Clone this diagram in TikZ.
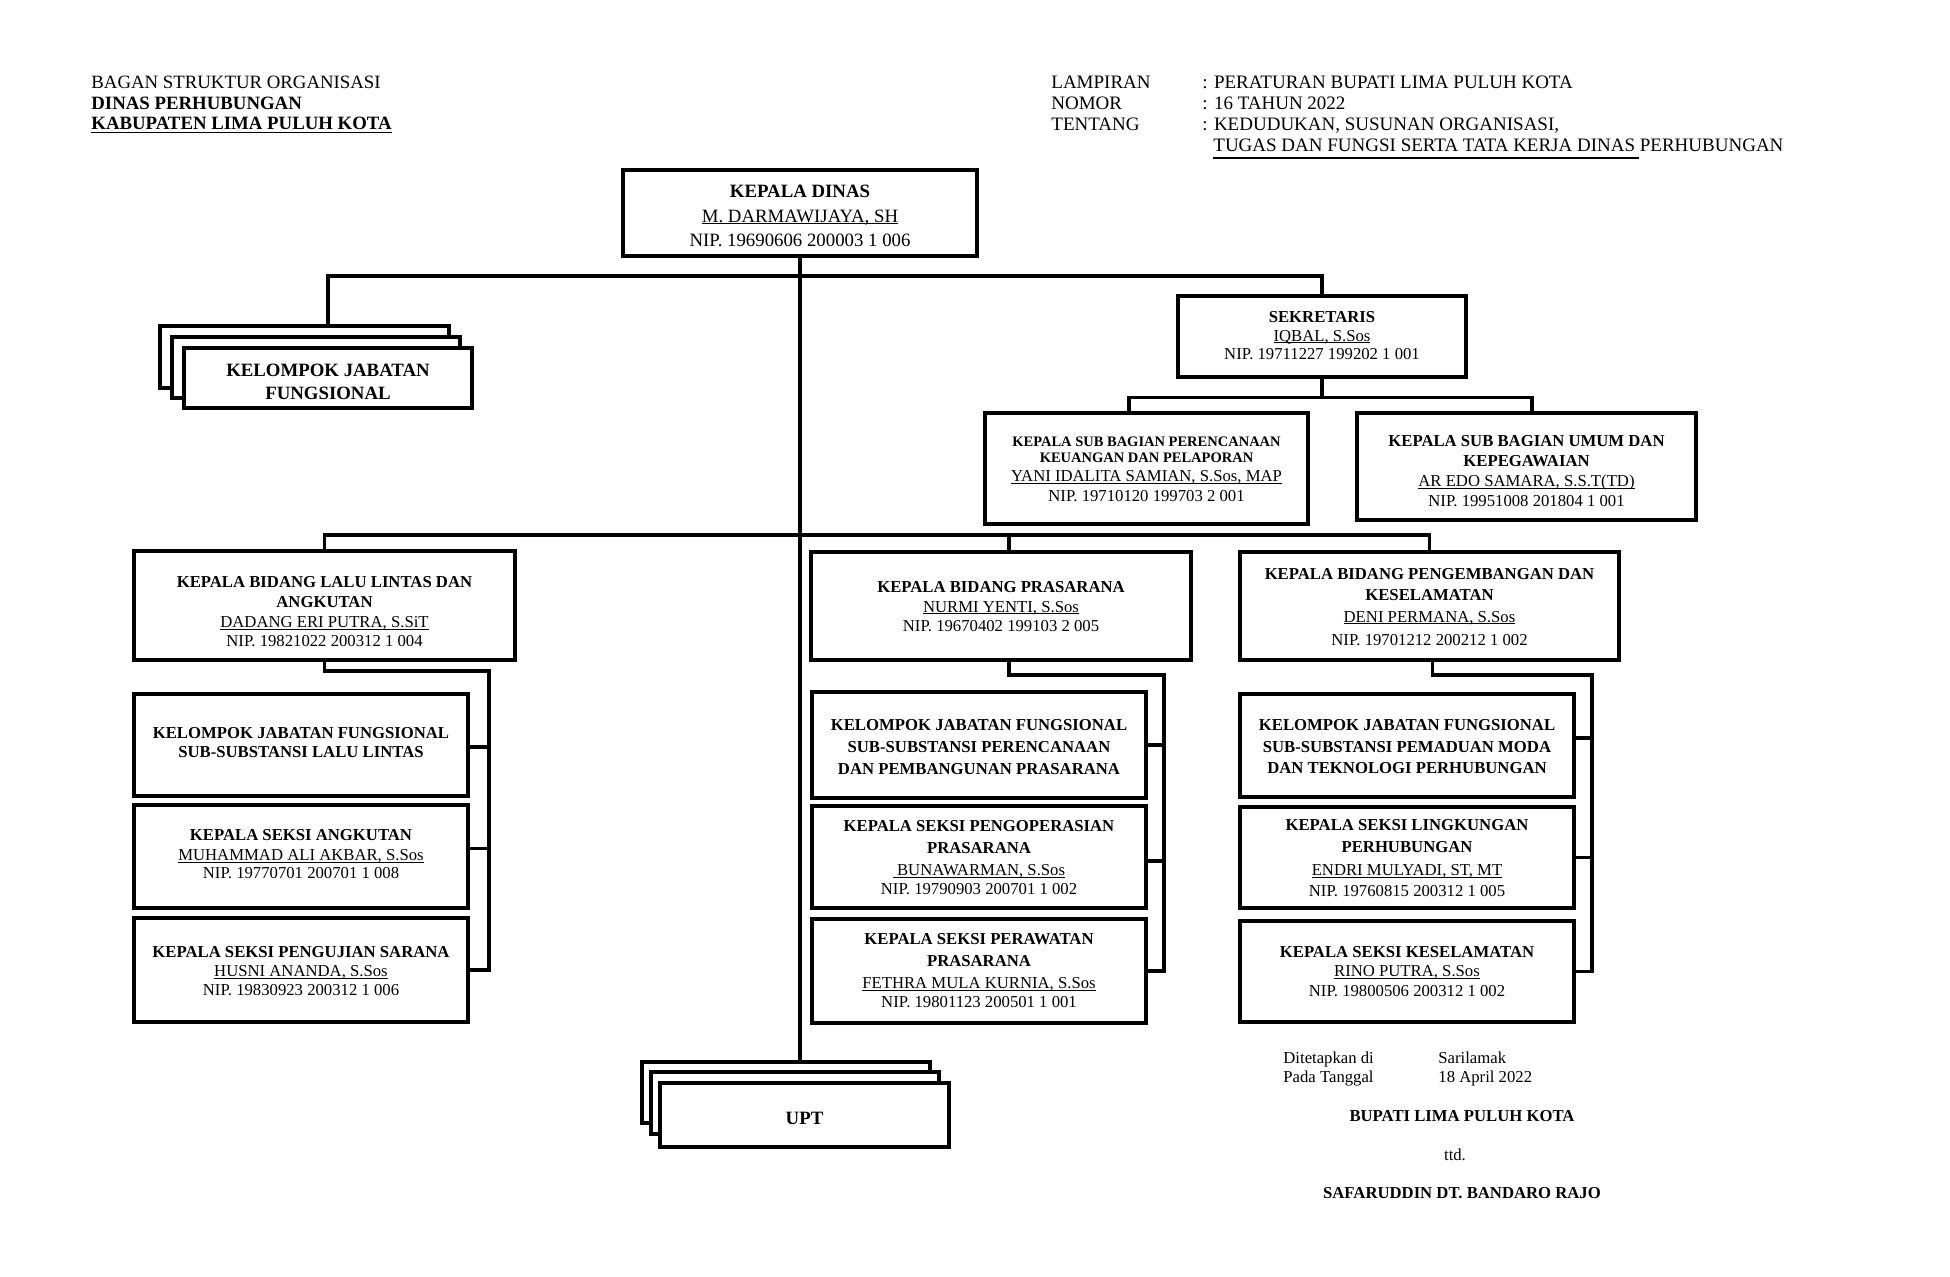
\documentclass[tikz,border=0pt]{standalone}
\usepackage{fontspec}
\setmainfont{Liberation Serif}
\usetikzlibrary{fit,calc}
\tikzset{
  box/.style={draw, line width=1.6pt, inner sep=0pt, fill=white},
  conn/.style={line width=1.6pt},
  hdr/.style={anchor=base west, inner sep=0pt, font=\fontsize{9.4}{10}\selectfont},
  hdrr/.style={anchor=base west, inner sep=0pt, font=\fontsize{9.5}{10}\selectfont},
  sig/.style={anchor=base west, inner sep=0pt, font=\fontsize{8.35}{10}\selectfont},
  tx/.style={anchor=base, inner sep=0pt, font=\fontsize{8.35}{10}\selectfont},
  txb/.style={anchor=base, inner sep=0pt, font=\fontsize{8.35}{10}\selectfont\bfseries},
  tt/.style={anchor=base, inner sep=0pt, font=\fontsize{9.4}{11}\selectfont},
  ttb/.style={anchor=base, inner sep=0pt, font=\fontsize{9.4}{11}\selectfont\bfseries},
  tsb/.style={anchor=base, inner sep=0pt, font=\fontsize{7.25}{8}\selectfont\bfseries},
}
\newcommand{\ulx}[3]{\setbox0\hbox{#3}\rlap{\rule[-#1]{\wd0}{#2}}\box0}
\newcommand{\ulname}[1]{\ulx{1.2pt}{0.5pt}{#1}}
\begin{document}
\begin{tikzpicture}[x=0.5pt,y=-0.5pt]
\fill[white] (0,0) rectangle (1950,1276);
\useasboundingbox (0,0) rectangle (1950,1276);

% ---------- header left
\node[hdr] (h1) at (91,88) {BAGAN STRUKTUR ORGANISASI};
\node[hdr] (h2) at (91,109) {\textbf{DINAS PERHUBUNGAN}};
\node[hdr] (h3) at (91,129) {\ulx{2.2pt}{0.9pt}{\textbf{KABUPATEN LIMA PULUH KOTA}}};
% ---------- header right
\node[hdrr] (r1a) at (1051,88) {LAMPIRAN};
\node[hdrr] (r1b) at (1202,88) {: PERATURAN BUPATI LIMA PULUH KOTA};
\node[hdrr] (r2a) at (1051,109) {NOMOR};
\node[hdrr] (r2b) at (1202,109) {: 16 TAHUN 2022};
\node[hdrr] (r3a) at (1051,130) {TENTANG};
\node[hdrr] (r3b) at (1202,130) {: KEDUDUKAN, SUSUNAN ORGANISASI,};
\node[hdrr] (r4b) at (1213,151) {TUGAS DAN FUNGSI SERTA TATA KERJA DINAS PERHUBUNGAN};
\coordinate (ula) at (1213,158);
\coordinate (ulb) at (1639,158);
\draw[line width=1pt] (ula) -- (ulb);

% ---------- boxes
\node[box, fit={(623,170) (977,256)}] (kd) {};
\node[box, fit={(160,326) (449,388)}] (kjf1) {};
\node[box, fit={(172,337) (460,398)}] (kjf2) {};
\node[box, fit={(184,348) (472,408)}] (kjf3) {};
\node[box, fit={(1178,296) (1466,377)}] (sek) {};
\node[box, fit={(985,413) (1308,524)}] (sp) {};
\node[box, fit={(1357,413) (1696,520)}] (su) {};
\node[box, fit={(134,551) (515,660)}] (bll) {};
\node[box, fit={(811,552) (1191,660)}] (bpr) {};
\node[box, fit={(1240,552) (1619,660)}] (bpe) {};
\node[box, fit={(134,694) (468,796)}] (ll1) {};
\node[box, fit={(134,805) (468,908)}] (ll2) {};
\node[box, fit={(134,918) (468,1022)}] (ll3) {};
\node[box, fit={(812,692) (1146,798)}] (pr1) {};
\node[box, fit={(812,806) (1146,908)}] (pr2) {};
\node[box, fit={(812,919) (1146,1023)}] (pr3) {};
\node[box, fit={(1240,694) (1574,797)}] (pe1) {};
\node[box, fit={(1240,807) (1574,908)}] (pe2) {};
\node[box, fit={(1240,921) (1574,1022)}] (pe3) {};
\node[box, fit={(642,1062) (930,1123)}] (upt1) {};
\node[box, fit={(651,1072) (939,1134)}] (upt2) {};
\node[box, fit={(660,1083) (949,1147)}] (upt3) {};

% ---------- box texts
\node[ttb] (kd-a) at (800,197) {KEPALA DINAS};
\node[tt]  (kd-b) at (800,222) {\ulname{M. DARMAWIJAYA, SH}};
\node[tt]  (kd-c) at (800,246) {NIP. 19690606 200003 1 006};

\node[ttb] (kjf-a) at (328,376) {KELOMPOK JABATAN};
\node[ttb] (kjf-b) at (328,399) {FUNGSIONAL};

\node[txb] (sek-a) at (1322,322) {SEKRETARIS};
\node[tx]  (sek-b) at (1322,341) {\ulname{IQBAL, S.Sos}};
\node[tx]  (sek-c) at (1322,359) {NIP. 19711227 199202 1 001};

\node[tsb] (sp-a) at (1146.5,446) {KEPALA SUB BAGIAN PERENCANAAN};
\node[tsb] (sp-b) at (1146.5,462) {KEUANGAN DAN PELAPORAN};
\node[tx]  (sp-c) at (1146.5,481.5) {\ulname{YANI IDALITA SAMIAN, S.Sos, MAP}};
\node[tx]  (sp-d) at (1146.5,501.5) {NIP. 19710120 199703 2 001};

\node[txb] (su-a) at (1526.5,446.5) {KEPALA SUB BAGIAN UMUM DAN};
\node[txb] (su-b) at (1526.5,466.5) {KEPEGAWAIAN};
\node[tx]  (su-c) at (1526.5,486.5) {\ulname{AR EDO SAMARA, S.S.T(TD)}};
\node[tx]  (su-d) at (1526.5,506.5) {NIP. 19951008 201804 1 001};

\node[txb] (bll-a) at (324.5,587.5) {KEPALA BIDANG LALU LINTAS DAN};
\node[txb] (bll-b) at (324.5,607.5) {ANGKUTAN};
\node[tx]  (bll-c) at (324.5,627.5) {\ulname{DADANG ERI PUTRA, S.SiT}};
\node[tx]  (bll-d) at (324.5,646.5) {NIP. 19821022 200312 1 004};

\node[txb] (bpr-a) at (1001,592) {KEPALA BIDANG PRASARANA};
\node[tx]  (bpr-b) at (1001,612) {\ulname{NURMI YENTI, S.Sos}};
\node[tx]  (bpr-c) at (1001,631) {NIP. 19670402 199103 2 005};

\node[txb] (bpe-a) at (1429.5,579.5) {KEPALA BIDANG PENGEMBANGAN DAN};
\node[txb] (bpe-b) at (1429.5,600.5) {KESELAMATAN};
\node[tx]  (bpe-c) at (1429.5,622) {\ulname{DENI PERMANA, S.Sos}};
\node[tx]  (bpe-d) at (1429.5,645.5) {NIP. 19701212 200212 1 002};

\node[txb] (ll1-a) at (301,738.5) {KELOMPOK JABATAN FUNGSIONAL};
\node[txb] (ll1-b) at (301,757.5) {SUB-SUBSTANSI LALU LINTAS};
\node[txb] (ll2-a) at (301,840.5) {KEPALA SEKSI ANGKUTAN};
\node[tx]  (ll2-b) at (301,860.5) {\ulname{MUHAMMAD ALI AKBAR, S.Sos}};
\node[tx]  (ll2-c) at (301,878.5) {NIP. 19770701 200701 1 008};
\node[txb] (ll3-a) at (301,957.5) {KEPALA SEKSI PENGUJIAN SARANA};
\node[tx]  (ll3-b) at (301,976.5) {\ulname{HUSNI ANANDA, S.Sos}};
\node[tx]  (ll3-c) at (301,995.5) {NIP. 19830923 200312 1 006};

\node[txb] (pr1-a) at (979,730.5) {KELOMPOK JABATAN FUNGSIONAL};
\node[txb] (pr1-b) at (979,752.5) {SUB-SUBSTANSI PERENCANAAN};
\node[txb] (pr1-c) at (979,774.5) {DAN PEMBANGUNAN PRASARANA};
\node[txb] (pr2-a) at (979,831.5) {KEPALA SEKSI PENGOPERASIAN};
\node[txb] (pr2-b) at (979,853.5) {PRASARANA};
\node[tx]  (pr2-c) at (979,875.5) {\ulname{\ BUNAWARMAN, S.Sos}};
\node[tx]  (pr2-d) at (979,894.5) {NIP. 19790903 200701 1 002};
\node[txb] (pr3-a) at (979,944.5) {KEPALA SEKSI PERAWATAN};
\node[txb] (pr3-b) at (979,966.5) {PRASARANA};
\node[tx]  (pr3-c) at (979,988.5) {\ulname{FETHRA MULA KURNIA, S.Sos}};
\node[tx]  (pr3-d) at (979,1007.5) {NIP. 19801123 200501 1 001};

\node[txb] (pe1-a) at (1407,730.5) {KELOMPOK JABATAN FUNGSIONAL};
\node[txb] (pe1-b) at (1407,752.5) {SUB-SUBSTANSI PEMADUAN MODA};
\node[txb] (pe1-c) at (1407,773.5) {DAN TEKNOLOGI PERHUBUNGAN};
\node[txb] (pe2-a) at (1407,830.5) {KEPALA SEKSI LINGKUNGAN};
\node[txb] (pe2-b) at (1407,852.5) {PERHUBUNGAN};
\node[tx]  (pe2-c) at (1407,875.5) {\ulname{ENDRI MULYADI, ST, MT}};
\node[tx]  (pe2-d) at (1407,896.5) {NIP. 19760815 200312 1 005};
\node[txb] (pe3-a) at (1407,957.5) {KEPALA SEKSI KESELAMATAN};
\node[tx]  (pe3-b) at (1407,976.5) {\ulname{RINO PUTRA, S.Sos}};
\node[tx]  (pe3-c) at (1407,996.5) {NIP. 19800506 200312 1 002};

\node[ttb] (upt-a) at (804.5,1124) {UPT};

% ---------- connectors
\coordinate (t1) at (800,276);
\coordinate (t2) at (800,535);
\draw[conn] (kd.south) -- (kd.south |- upt1.north);
\draw[conn] (kjf3.north |- kjf1.north) |- (t1) -| (sek.north);
\draw[conn] (sek.south) -- ++(0,19) coordinate (t3);
\draw[conn] ([xshift=-8.75pt]sp.north) |- (t3) -| ([xshift=2.75pt]su.north);
\draw[conn] (bll.north) |- (t2) -| ([xshift=4pt]bpr.north);
\draw[conn] (t2) -| (bpe.north);

\coordinate (v1) at (489,671);
\draw[conn] (bll.south) |- (v1) -- (v1 |- ll3.east) -- (ll3.east);
\draw[conn] ([yshift=-1pt]ll1.east) -- ([yshift=-1pt]ll1.east -| v1);
\draw[conn] ([yshift=4pt]ll2.east) -- ([yshift=4pt]ll2.east -| v1);

\coordinate (v2) at (1164,675);
\draw[conn] ([xshift=4pt]bpr.south) |- (v2) -- (v2 |- pr3.east) -- (pr3.east);
\draw[conn] (pr1.east) -- (pr1.east -| v2);
\draw[conn] ([yshift=-2pt]pr2.east) -- ([yshift=-2pt]pr2.east -| v2);

\coordinate (v3) at (1592,675);
\draw[conn] ([xshift=1.5pt]bpe.south) |- (v3) -- (v3 |- pe3.east) -- (pe3.east);
\draw[conn] ([yshift=3.75pt]pe1.east) -- ([yshift=3.75pt]pe1.east -| v3);
\draw[conn] (pe2.east) -- (pe2.east -| v3);

% ---------- signature block
\node[sig] (s1) at (1283,1063) {Ditetapkan di};
\node[sig] (s2) at (1438,1063) {Sarilamak};
\node[sig] (s3) at (1283,1082) {Pada Tanggal};
\node[sig] (s4) at (1438,1082) {18 April 2022};
\node[tx] (s5) at (1462,1121) {\textbf{BUPATI LIMA PULUH KOTA}};
\node[tx] (s6) at (1455,1160) {ttd.};
\node[tx] (s7) at (1462,1198) {\textbf{SAFARUDDIN DT. BANDARO RAJO}};
\end{tikzpicture}
\end{document}
